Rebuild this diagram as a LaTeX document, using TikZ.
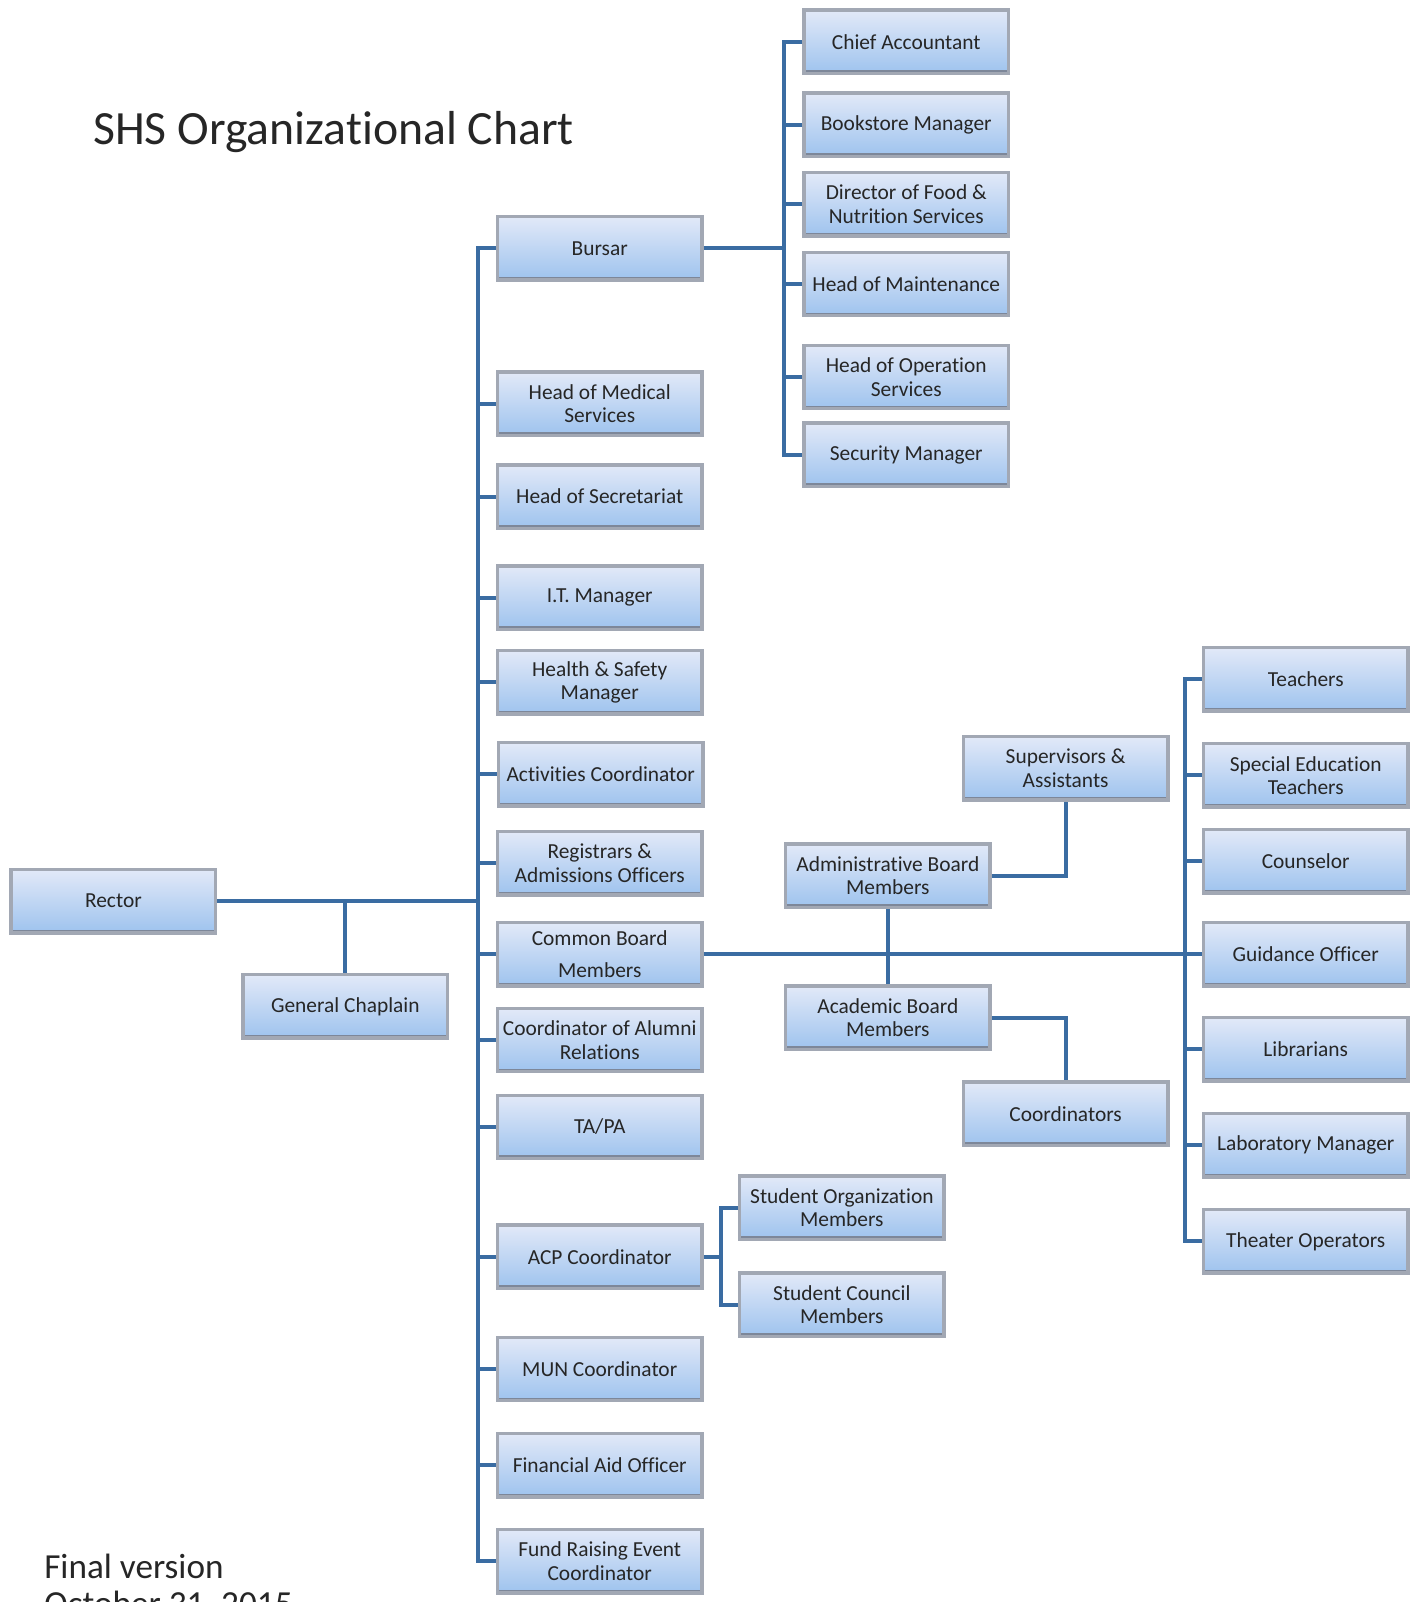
\documentclass[tikz,border=0pt]{standalone}
\usepackage{fontspec}
\setmainfont[Ligatures=NoCommon]{Carlito}
\usetikzlibrary{shadows}
\definecolor{boxtop}{HTML}{E2E9F8}
\definecolor{boxbot}{HTML}{9EC3EE}
\definecolor{boxedge}{HTML}{A2A8B4}
\definecolor{shadcol}{HTML}{7D8799}
\definecolor{conncol}{HTML}{3A6CA2}
\definecolor{txt}{HTML}{262626}
\begin{document}
\begin{tikzpicture}[x=0.51078pt,y=-0.51078pt,
 box/.style={draw=boxedge, line width=1.7pt, top color=boxtop, bottom color=boxbot,
   minimum width=102.2pt, minimum height=31.7pt, inner sep=1pt, align=center, text=txt,
   font=\fontsize{10.7}{11.8}\selectfont,
   drop shadow={shadow xshift=0.6pt, shadow yshift=-0.8pt, opacity=0.25, fill=gray},
   path picture={\draw[line width=3.2pt, shadcol] (path picture bounding box.south west) -- (path picture bounding box.south east);}},
 conn/.style={draw=conncol, line width=2pt, line join=miter}]
\clip (0,0) rectangle (1392,1568);
\fill[white] (0,0) rectangle (1392,1568);

% title and notes
\node[anchor=base west, inner sep=0, text=txt, font=\fontsize{23.85}{28}\selectfont] (title) at (91,141) {SHS Organizational Chart};
\node[anchor=base west, inner sep=0, text=txt, font=\fontsize{17.6}{21}\selectfont] (final) at (43,1545) {Final version};
\node[anchor=base west, inner sep=0, text=txt, font=\fontsize{17.6}{21}\selectfont] (date) at (43,1581) {October 31, 2015};

% bursar branch
\node[box] (chief) at (887,41) {Chief Accountant};
\node[box] (book) at (887,122) {Bookstore Manager};
\node[box] (food) at (887,200) {Director of Food \&\\Nutrition Services};
\node[box] (maint) at (887,278) {Head of Maintenance};
\node[box] (oper) at (887,369) {Head of Operation\\Services};
\node[box] (secur) at (887,445) {Security Manager};

% main column
\node[box] (bursar) at (587,243) {Bursar};
\node[box] (medical) at (587,395) {Head of Medical\\Services};
\node[box] (secret) at (587,486) {Head of Secretariat};
\node[box] (it) at (587,585) {I.T. Manager};
\node[box] (health) at (587,668) {Health \& Safety\\Manager};
\node[box] (activ) at (588,758) {Activities Coordinator};
\node[box] (regis) at (587,845) {Registrars \&\\Admissions Officers};
\node[box] (common) at (587,934) {Common Board\\[4.5pt]Members};
\node[box] (alumni) at (587,1018) {Coordinator of Alumni\\Relations};
\node[box] (tapa) at (587,1103) {TA/PA};
\node[box] (acp) at (587,1230) {ACP Coordinator};
\node[box] (mun) at (587,1340) {MUN Coordinator};
\node[box] (finaid) at (587,1434) {Financial Aid Officer};
\node[box] (fund) at (587,1528) {Fund Raising Event\\Coordinator};

% left
\node[box] (rector) at (111,882) {Rector};
\node[box] (chaplain) at (338,985) {General Chaplain};

% right column
\node[box] (teachers) at (1278,665) {Teachers};
\node[box] (sped) at (1278,759) {Special Education\\Teachers};
\node[box] (couns) at (1278,843) {Counselor};
\node[box] (guid) at (1278,934) {Guidance Officer};
\node[box] (lib) at (1278,1027) {Librarians};
\node[box] (lab) at (1278,1121) {Laboratory Manager};
\node[box] (theater) at (1278,1215) {Theater Operators};

% middle
\node[box] (super) at (1043,752) {Supervisors \&\\Assistants};
\node[box] (admin) at (869,857) {Administrative Board\\Members};
\node[box] (acad) at (869,996) {Academic Board\\Members};
\node[box] (coords) at (1043,1090) {Coordinators};
\node[box] (sorg) at (824,1182) {Student Organization\\Members};
\node[box] (scoun) at (824,1277) {Student Council\\Members};

% trunk coordinates
\coordinate (tk) at (468,243);
\coordinate (bk) at (767,41);
\coordinate (rk) at (1160,665);
\coordinate (ak) at (706,1182);

% connectors
\draw[conn] (bursar.west) -| (tk) |- (fund.west);
\foreach \n in {medical,secret,it,health,activ,regis,common,alumni,tapa,acp,mun,finaid}
  \draw[conn] (\n.west) -- (\n.west -| tk);
\draw[conn] (rector.east) -- (rector.east -| tk);
\draw[conn] (chaplain.north) -- (chaplain.north |- rector.east);

\draw[conn] (chief.west) -| (bk) |- (secur.west);
\foreach \n in {book,food,maint,oper}
  \draw[conn] (\n.west) -- (\n.west -| bk);
\draw[conn] (bursar.east) -- (bursar.east -| bk);

\draw[conn] (teachers.west) -| (rk) |- (theater.west);
\foreach \n in {sped,couns,guid,lib,lab}
  \draw[conn] (\n.west) -- (\n.west -| rk);
\draw[conn] (common.east) -- (common.east -| rk);

\draw[conn] (admin.south) -- (acad.north);
\draw[conn] (admin.east) -| (super.south);
\draw[conn] (acad.east) -| (coords.north);

\draw[conn] (sorg.west) -| (ak) |- (scoun.west);
\draw[conn] (acp.east) -- (acp.east -| ak);
\end{tikzpicture}
\end{document}
